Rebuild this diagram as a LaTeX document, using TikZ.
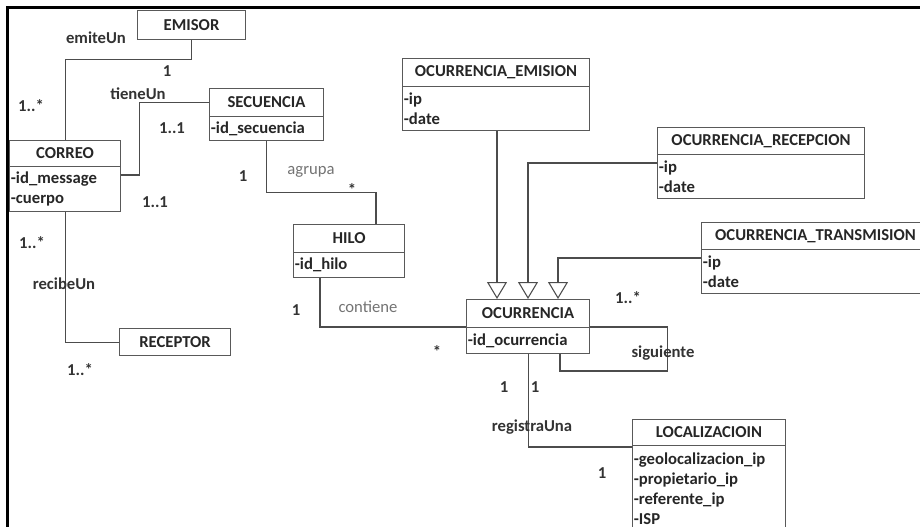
\documentclass[tikz,border=0pt]{standalone}
\usepackage{fontspec}
\setmainfont{Carlito}
\usetikzlibrary{positioning,calc,arrows.meta}

\begin{document}
\begin{tikzpicture}[x=0.75pt,y=-0.75pt,
  hd/.style={draw=black!65,line width=0.8pt,anchor=north west,inner sep=0pt,
    font=\fontsize{12.5}{15}\selectfont\bfseries,text=black!85},
  bd/.style={draw=black!65,line width=0.8pt,anchor=north west,inner xsep=1pt,inner ysep=0pt,
    align=left,font=\fontsize{12.5}{15}\selectfont\bfseries,text=black!85},
  lnk/.style={draw=black!70,line width=0.8pt},
  gen/.style={lnk,-{Triangle[open,length=12.75pt,width=15pt]}},
  lab/.style={font=\fontsize{12.5}{15}\selectfont\bfseries,text=black!80,inner sep=1pt},
  glab/.style={font=\fontsize{12.5}{15}\selectfont,text=black!55,inner sep=1pt}]
  \useasboundingbox (0,0) rectangle (920,527);
  \clip (0,0) rectangle (920,527);
  % frame
  \draw[line width=2.25pt] (7,527) -- (7,8) -- (920,8);

  % classes
  \node[hd,minimum width=81pt,minimum height=21.75pt] (em) at (137,10) {EMISOR};
  \node[hd,minimum width=83.25pt,minimum height=19.5pt] (ct) at (9,140) {CORREO};
  \node[bd,text width=81.25pt,minimum height=33.75pt] (cb) at (9,166) {-id\_message\\-cuerpo};
  \node[hd,minimum width=85.5pt,minimum height=21pt] (st) at (209,88) {SECUENCIA};
  \node[bd,text width=83.5pt,minimum height=18pt] (sb) at (209,116) {-id\_secuencia};
  \node[hd,minimum width=83.25pt,minimum height=21pt] (ht) at (293,224) {HILO};
  \node[bd,text width=81.25pt,minimum height=18.75pt] (hb) at (293,252) {-id\_hilo};
  \node[hd,minimum width=83.25pt,minimum height=20.25pt] (rc) at (119,328) {RECEPTOR};
  \node[hd,minimum width=140.25pt,minimum height=21pt] (et) at (402,58) {OCURRENCIA\_EMISION};
  \node[bd,text width=138.25pt,minimum height=33pt] (eb) at (402,86) {-ip\\-date};
  \node[hd,minimum width=155.25pt,minimum height=20.25pt] (rt) at (657,127) {OCURRENCIA\_RECEPCION};
  \node[bd,text width=153.25pt,minimum height=33pt] (rb) at (657,154) {-ip\\-date};
  \node[hd,minimum width=171pt,minimum height=20.25pt] (tt) at (701,222) {OCURRENCIA\_TRANSMISION};
  \node[bd,text width=169pt,minimum height=33pt] (tb) at (701,249) {-ip\\-date};
  \node[hd,minimum width=92.25pt,minimum height=21pt] (ot) at (466,299) {OCURRENCIA};
  \node[bd,text width=90.25pt,minimum height=19.5pt] (ob) at (466,327) {-id\_ocurrencia};
  \node[hd,minimum width=114.75pt,minimum height=19.5pt] (lt) at (632,419) {LOCALIZACIOIN};
  \node[bd,text width=112.75pt,minimum height=64.5pt] (lb) at (632,445)
    {-geolocalizacion\_ip\\-propietario\_ip\\-referente\_ip\\-ISP};

  % associations
  \draw[lnk] (em.south) -- ++(0,19) -| (ct.north);
  \draw[lnk] ($(cb.north east)+(0,9)$) -- ++(18,0) |- (st.west);
  \draw[lnk] (sb.south) -- ++(0,51) -| ($(ht.north west)+(83,0)$);
  \draw[lnk] ($(hb.south west)+(27,0)$) |- (ob.north west);
  \draw[lnk] (ob.north east) -- ++(77,0) -- ++(0,44) -| ($(ob.south west)+(94,0)$);
  \draw[lnk] (ob.south) |- ($(lb.north west)+(0,2)$);
  \draw[lnk] (cb.south) |- (rc.west);

  % generalizations
  \draw[gen] ($(eb.south west)+(95,0)$) -- ($(ot.north west)+(31,0)$);
  \draw[gen] ($(rb.north west)+(0,9)$) -| ($(ot.north west)+(62,0)$);
  \draw[gen] ($(tb.north west)+(0,9)$) -| ($(ot.north west)+(92,0)$);

  % labels
  \node[lab] (l1) at (96,38) {emiteUn};
  \node[lab] (l2) at (167,71) {1};
  \node[lab] (l3) at (31,106) {1..*};
  \node[lab] (l4) at (138,94) {tieneUn};
  \node[lab] (l5) at (172,128) {1..1};
  \node[lab] (l6) at (155,202) {1..1};
  \node[lab] (l7) at (243,176) {1};
  \node[glab] (l8) at (311,172) {agrupa};
  \node[lab] (l9) at (352,190) {*};
  \node[lab] (l10) at (32,243) {1..*};
  \node[lab] (l11) at (64,284) {recibeUn};
  \node[lab] (l12) at (80,370) {1..*};
  \node[lab] (l13) at (296,310) {1};
  \node[glab] (l14) at (368,307) {contiene};
  \node[lab] (l15) at (437,352) {*};
  \node[lab] (l16) at (628,298) {1..*};
  \node[lab] (l17) at (663,353) {siguiente};
  \node[lab] (l18) at (504,387) {1};
  \node[lab] (l19) at (535,387) {1};
  \node[lab] (l20) at (532,427) {registraUna};
  \node[lab] (l21) at (602,473) {1};
\end{tikzpicture}
\end{document}
